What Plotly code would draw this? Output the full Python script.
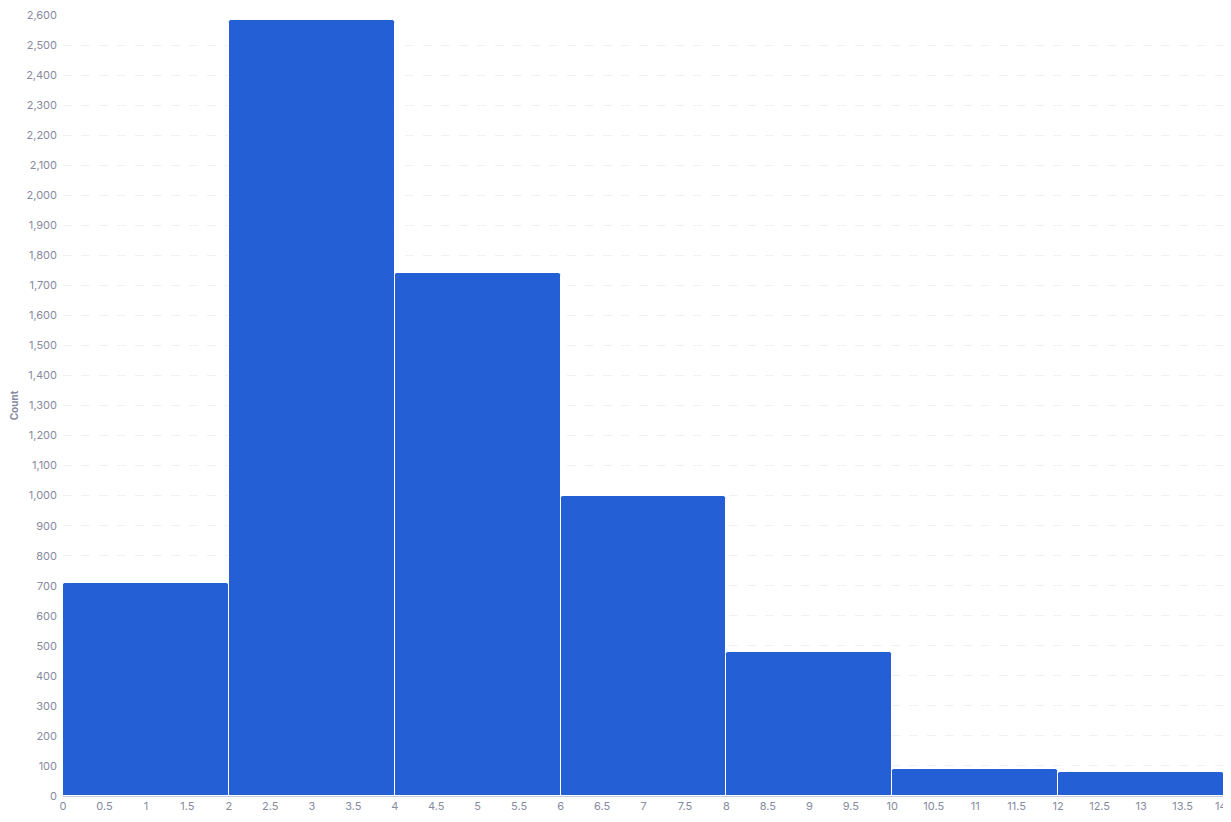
import plotly.graph_objects as go

# histogram bins (edges of width 2) and counts
bin_left = [0, 2, 4, 6, 8, 10, 12]
bin_width = 2
counts = [710, 2583, 1741, 1000, 481, 90, 79]

x_ticks = [i * 0.5 for i in range(29)]
x_labels = [f"{t:g}" for t in x_ticks]
# keep the last label inside the window
x_labels[-1] = x_labels[-1] + "&nbsp;&nbsp;"

centers = [b + bin_width / 2 for b in bin_left]

fig = go.Figure()
fig.add_trace(go.Bar(
    x=centers,
    y=counts,
    width=[bin_width] * len(counts),
    marker=dict(color="#245fd5", line=dict(color="white", width=1), cornerradius=3),
    hovertemplate="%{y}<extra></extra>",
))

grey = "#878aa0"
fig.update_layout(
    width=1230,
    height=817,
    margin=dict(l=55, r=14, t=7, b=29),
    paper_bgcolor="white",
    plot_bgcolor="white",
    font=dict(family="Inter", size=11, color=grey),
    showlegend=False,
    bargap=0,
    xaxis=dict(
        range=[0, 14],
        tickvals=x_ticks,
        ticktext=x_labels,
        showgrid=False,
        showline=True,
        linecolor="#c8cad6",
        linewidth=1,
        zeroline=False,
        ticks="",
        automargin=False,
        ticklabeloverflow="allow",
        tickfont=dict(size=11, color=grey),
    ),
    yaxis=dict(
        range=[0, 2600],
        dtick=100,
        tickformat=",",
        showgrid=True,
        gridcolor="#f1f1f4",
        griddash="dash",
        zeroline=False,
        ticks="",
        automargin=False,
        ticklabeloverflow="allow",
        ticklabelstandoff=5,
        tickfont=dict(size=11, color=grey),
        title=dict(text="<b>Count</b>", font=dict(size=10, color=grey), standoff=10),
    ),
)

fig.write_html("out.html")
